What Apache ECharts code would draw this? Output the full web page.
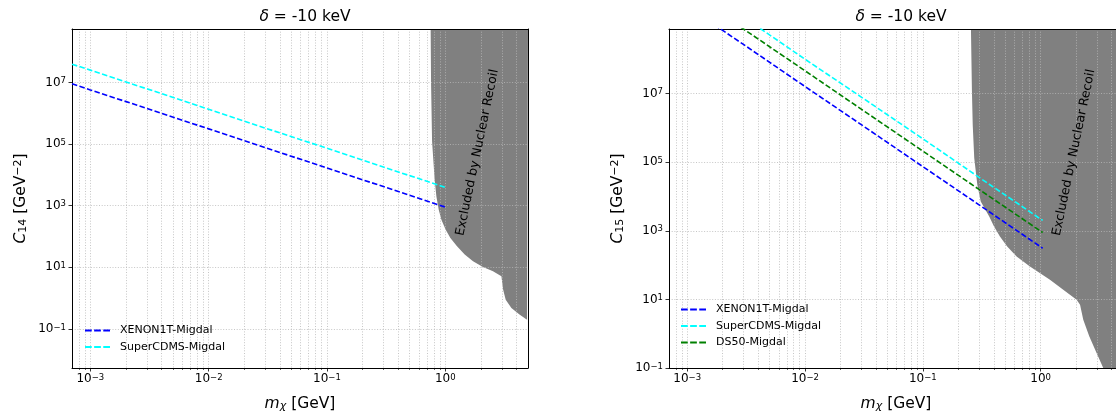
<!DOCTYPE html>
<html>
<head>
<meta charset="utf-8">
<script src="https://cdn.jsdelivr.net/npm/echarts@6/dist/echarts.min.js"></script>
<style>
html, body { margin: 0; padding: 0; background: #fff; }
#chart { width: 1116px; height: 414px; }
</style>
</head>
<body>
<div id="chart"></div>
<script>
// ---- values ----
// left panel : C14
var massLeft = [7e-4, 1e-3, 3e-3, 1e-2, 3e-2, 1e-1, 3e-1, 1.02];
var c14Xenon = [9.0e6, 5.7e6, 1.43e6, 3.1e5, 7.7e4, 1.66e4, 4.15e3, 880];
var c14SuperCDMS = [3.9e7, 2.5e7, 6.2e6, 1.35e6, 3.3e5, 7.3e4, 1.8e4, 3.8e3];

// right panel : C15
var massRight = [1.5e-3, 2e-3, 3e-3, 1e-2, 3e-2, 1e-1, 3e-1, 1.04];
var c15Xenon = [1.35e9, 6.9e8, 2.7e8, 1.6e7, 1.24e6, 7.4e4, 5.7e3, 310];
var c15SuperCDMS = [8.6e9, 4.4e9, 1.7e9, 1.0e8, 7.9e6, 4.8e5, 3.6e4, 2.0e3];
var c15DS50 = [3.8e9, 1.9e9, 7.6e8, 4.6e7, 3.5e6, 2.1e5, 1.6e4, 890];

// nuclear recoil excluded region (lower edge)
var nrLeftX = [0.752, 0.758, 0.773, 0.813, 0.841, 0.880, 0.927, 1.008, 1.104, 1.256, 1.459, 1.715, 2.08, 2.53, 2.98, 3.08, 3.24, 3.62, 4.26, 4.91, 5];
var nrLeftY = [5.4e8, 1e7, 1.22e5, 6980, 2000, 740, 351, 166, 89.7, 48, 25.8, 15.6, 10.3, 7.4, 5.1, 1.89, 0.89, 0.48, 0.29, 0.20, 0.2];
var nrRightX = [0.256, 0.261, 0.265, 0.273, 0.290, 0.310, 0.366, 0.402, 0.451, 0.520, 0.625, 0.811, 1.199, 1.555, 2.02, 2.16, 2.30, 2.59, 2.99, 3.40, 5];
var nrRightY = [7.6e8, 1.15e7, 1.23e6, 1.32e5, 2.19e4, 7140, 2610, 1330, 682, 349, 178, 91, 37.2, 19, 9.7, 7.0, 2.54, 0.83, 0.27, 0.1, 0.1];

// ticks
var xMajor = [1e-3, 1e-2, 1e-1, 1];
var xMinor = [8e-4, 9e-4,
  2e-3, 3e-3, 4e-3, 5e-3, 6e-3, 7e-3, 8e-3, 9e-3,
  2e-2, 3e-2, 4e-2, 5e-2, 6e-2, 7e-2, 8e-2, 9e-2,
  0.2, 0.3, 0.4, 0.5, 0.6, 0.7, 0.8, 0.9,
  2, 3, 4];
var yMajor = [1e-1, 1e1, 1e3, 1e5, 1e7];

var FONT = 'DejaVu Sans';
var GRID_LINE = { show: true, lineStyle: { color: '#b8b8b8', width: 0.8, type: [1, 1.7] } };
var DASH = [5.5, 2.4];

function zip(xs, ys) {
  return xs.map(function (x, i) { return [x, ys[i]]; });
}

function powLabel(v) {
  var e = Math.round(Math.log10(v));
  return '10{sup|' + (e < 0 ? '\u2212' + (-e) : e) + '}';
}

var tickLabel = {
  fontSize: 12, color: '#000', fontFamily: FONT,
  rich: { sup: { fontSize: 8.5, fontFamily: FONT, color: '#000', verticalAlign: 'top', lineHeight: 9 } }
};

var nameRich = {
  i: { fontSize: 15.5, fontStyle: 'italic', fontFamily: FONT },
  sub: { fontSize: 11, fontFamily: FONT, verticalAlign: 'bottom', lineHeight: 11 },
  subi: { fontSize: 11, fontStyle: 'italic', fontFamily: FONT, verticalAlign: 'bottom', lineHeight: 11 },
  sup: { fontSize: 11, fontFamily: FONT, verticalAlign: 'top', lineHeight: 11 }
};

function mainX(grid) {
  return {
    type: 'log', gridIndex: grid, position: 'bottom', min: 7e-4, max: 5, z: 2,
    name: '{i|m}{subi|\u03c7} [GeV]', nameLocation: 'middle', nameGap: 28,
    nameTextStyle: { fontSize: 15.5, color: '#000', fontFamily: FONT, rich: nameRich },
    axisLine: { show: true, onZero: false, lineStyle: { color: '#000', width: 1 } },
    axisTick: { show: true, length: 3.5, lineStyle: { color: '#000', width: 0.8 }, customValues: xMajor },
    axisLabel: Object.assign({ margin: 5, formatter: powLabel, customValues: xMajor }, tickLabel),
    splitLine: GRID_LINE
  };
}
function minorX(grid) {
  return {
    type: 'log', gridIndex: grid, position: 'bottom', min: 7e-4, max: 5, z: 2,
    axisLine: { show: false },
    axisTick: { show: true, length: 2, lineStyle: { color: '#000', width: 0.6 }, customValues: xMinor },
    axisLabel: { show: false },
    splitLine: GRID_LINE
  };
}
function spineX(grid) {
  return {
    type: 'value', gridIndex: grid, position: 'top', min: 0, max: 1, z: 2,
    axisLine: { show: true, onZero: false, lineStyle: { color: '#000', width: 1 } },
    axisTick: { show: false }, axisLabel: { show: false }, splitLine: { show: false }
  };
}
function mainY(grid, name, lo, hi) {
  return {
    type: 'log', gridIndex: grid, position: 'left', min: lo, max: hi, z: 2,
    name: name, nameLocation: 'middle', nameGap: 43,
    nameTextStyle: { fontSize: 15.5, color: '#000', fontFamily: FONT, rich: nameRich },
    axisLine: { show: true, onZero: false, lineStyle: { color: '#000', width: 1 } },
    axisTick: { show: true, length: 3.5, lineStyle: { color: '#000', width: 0.8 }, customValues: yMajor },
    axisLabel: Object.assign({ margin: 6, formatter: powLabel, customValues: yMajor }, tickLabel),
    splitLine: GRID_LINE
  };
}
function spineY(grid) {
  return {
    type: 'value', gridIndex: grid, position: 'right', min: 0, max: 1, z: 2,
    axisLine: { show: true, onZero: false, lineStyle: { color: '#000', width: 1 } },
    axisTick: { show: false }, axisLabel: { show: false }, splitLine: { show: false }
  };
}

function dashed(name, color, xi, yi, xs, ys) {
  return {
    name: name, type: 'line', xAxisIndex: xi, yAxisIndex: yi, z: 3,
    data: zip(xs, ys), symbol: 'none', showSymbol: false, clip: true,
    lineStyle: { color: color, width: 1.6, type: DASH },
    itemStyle: { color: color }
  };
}
function excluded(xi, yi, xs, ys) {
  return {
    type: 'line', xAxisIndex: xi, yAxisIndex: yi, z: 1, silent: true,
    data: zip(xs, ys), symbol: 'none', showSymbol: false, clip: true,
    lineStyle: { width: 0, color: '#808080' },
    areaStyle: { color: '#808080', opacity: 1, origin: 'end' }
  };
}

var legendCommon = {
  orient: 'vertical', padding: 0, itemWidth: 25, itemHeight: 13, itemGap: 5.5,
  icon: 'path://M0,6H7V8H0Z M9.5,6H16.5V8H9.5Z M19,6H26V8H19Z',
  textStyle: { fontSize: 11, color: '#000', fontFamily: FONT, padding: [0, 0, 0, 5] }
};

var titleStyle = {
  fontSize: 15.5, fontWeight: 'normal', color: '#000', fontFamily: FONT,
  rich: { i: { fontSize: 15.5, fontStyle: 'italic', fontFamily: FONT } }
};

var chart = echarts.init(document.getElementById('chart'), null, { renderer: 'canvas' });
chart.setOption({
  animation: false,
  backgroundColor: '#fff',
  title: [
    { text: '{i|\u03b4} = -10 keV', left: 300, top: 4, textAlign: 'center', textStyle: titleStyle },
    { text: '{i|\u03b4} = -10 keV', left: 896, top: 4, textAlign: 'center', textStyle: titleStyle }
  ],
  legend: [
    Object.assign({ left: 85, top: 325, data: ['XENON1T-Migdal', 'SuperCDMS-Migdal'] }, legendCommon),
    Object.assign({ left: 681, top: 304, data: ['XENON1T-Migdal', 'SuperCDMS-Migdal', 'DS50-Migdal'] }, legendCommon)
  ],
  grid: [
    { left: 72, top: 29, width: 456, height: 339, containLabel: false, outerBoundsMode: 'none' },
    { left: 669, top: 29, width: 454, height: 339, containLabel: false, outerBoundsMode: 'none' }
  ],
  xAxis: [mainX(0), minorX(0), spineX(0), mainX(1), minorX(1), spineX(1)],
  yAxis: [
    mainY(0, '{i|C}{sub|14} [GeV{sup|\u22122}]', 5.4e-3, 5.4e8), spineY(0),
    mainY(1, '{i|C}{sub|15} [GeV{sup|\u22122}]', 0.1, 7.6e8), spineY(1)
  ],
  series: [
    excluded(0, 0, nrLeftX, nrLeftY),
    dashed('XENON1T-Migdal', '#0000ff', 0, 0, massLeft, c14Xenon),
    dashed('SuperCDMS-Migdal', '#00ffff', 0, 0, massLeft, c14SuperCDMS),
    excluded(3, 2, nrRightX, nrRightY),
    dashed('XENON1T-Migdal', '#0000ff', 3, 2, massRight, c15Xenon),
    dashed('SuperCDMS-Migdal', '#00ffff', 3, 2, massRight, c15SuperCDMS),
    dashed('DS50-Migdal', '#008000', 3, 2, massRight, c15DS50)
  ],
  graphic: [
    { type: 'text', x: 477.5, y: 152.5, rotation: 78.2 * Math.PI / 180, z: 10,
      style: { text: 'Excluded by Nuclear Recoil', fontSize: 12.5, fill: '#000', fontFamily: FONT,
        align: 'center', verticalAlign: 'middle' } },
    { type: 'text', x: 1074, y: 152.5, rotation: 78.2 * Math.PI / 180, z: 10,
      style: { text: 'Excluded by Nuclear Recoil', fontSize: 12.5, fill: '#000', fontFamily: FONT,
        align: 'center', verticalAlign: 'middle' } }
  ]
});
</script>
</body>
</html>
